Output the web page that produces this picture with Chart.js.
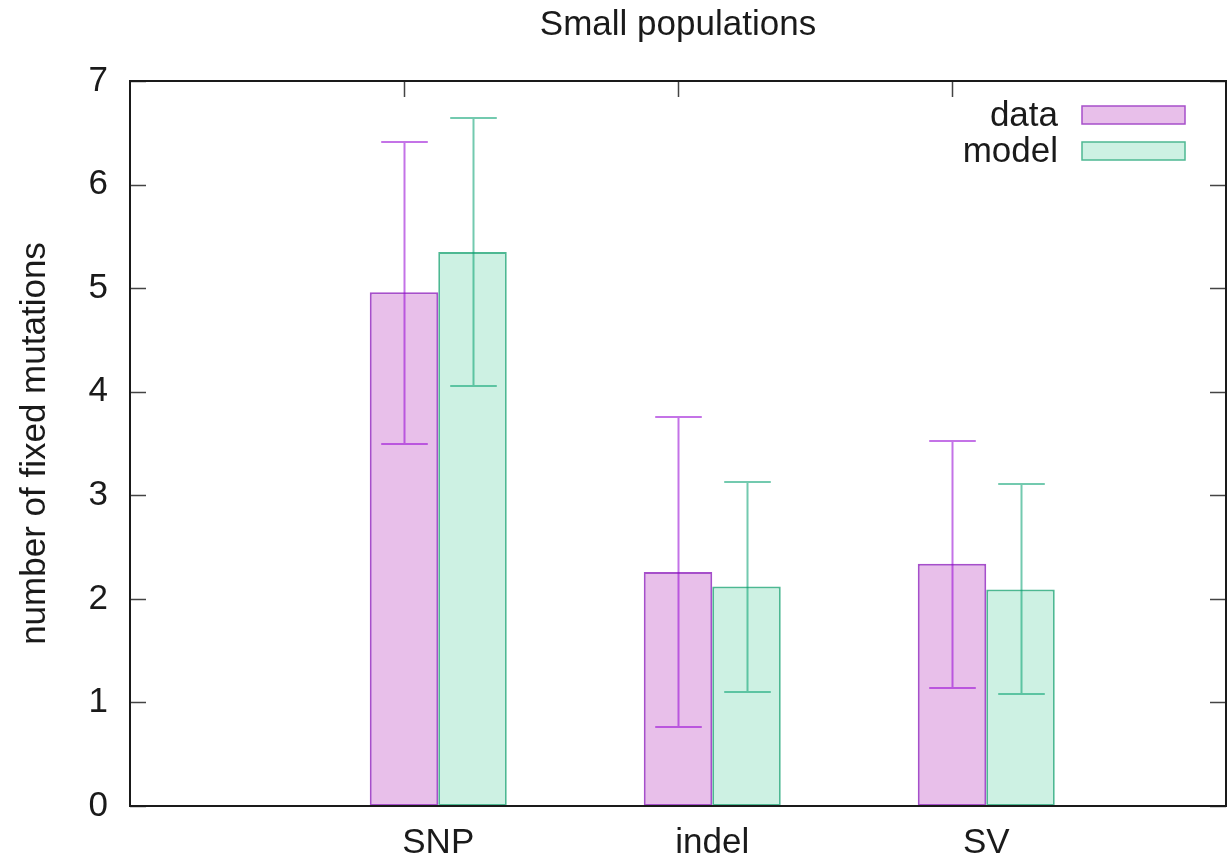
<!DOCTYPE html>
<html lang="en">
<head>
    <meta charset="UTF-8">
    <title>Small populations</title>
    <script src="https://cdn.jsdelivr.net/npm/chart.js@4/dist/chart.umd.min.js"></script>
    <style>
        body { margin: 0; background: #fff; }
    </style>
</head>
<body>
    <canvas id="myChart" width="1228" height="864"></canvas>

    <script>
        const categories = ['SNP', 'indel', 'SV'];
        const seriesNames = ['data', 'model'];
        const dataMean  = [4.96, 2.26, 2.34];
        const dataLow   = [3.50, 0.76, 1.14];
        const dataHigh  = [6.41, 3.76, 3.52];
        const modelMean = [5.35, 2.12, 2.09];
        const modelLow  = [4.06, 1.10, 1.08];
        const modelHigh = [6.64, 3.13, 3.11];
        const yTicks = [0, 1, 2, 3, 4, 5, 6, 7];

        const FONT = '"Liberation Sans", Arial, Helvetica, sans-serif';
        const INK = '#1a1a1a';

        // cluster center sits a quarter bar to the right of the category position
        const toPoints = (vals) => vals.map((v, i) => ({ x: i + 0.125, y: v }));

        const errors = [
            { low: dataLow, high: dataHigh, color: 'rgba(148, 0, 211, 0.55)' },
            { low: modelLow, high: modelHigh, color: 'rgba(0, 158, 110, 0.55)' }
        ];

        const gnuplotLook = {
            id: 'gnuplotLook',
            afterDatasetsDraw(chart) {
                const ctx = chart.ctx;
                const y = chart.scales.y;
                ctx.save();
                ctx.lineWidth = 2;
                errors.forEach((err, d) => {
                    const meta = chart.getDatasetMeta(d);
                    ctx.strokeStyle = err.color;
                    meta.data.forEach((bar, i) => {
                        const cx = Math.round(bar.x) + 0.5;
                        const half = bar.width * 0.34;
                        const yl = Math.round(y.getPixelForValue(err.low[i]));
                        const yh = Math.round(y.getPixelForValue(err.high[i]));
                        ctx.beginPath();
                        ctx.moveTo(cx, yl);
                        ctx.lineTo(cx, yh);
                        ctx.moveTo(cx - half, yl);
                        ctx.lineTo(cx + half, yl);
                        ctx.moveTo(cx - half, yh);
                        ctx.lineTo(cx + half, yh);
                        ctx.stroke();
                    });
                });
                ctx.restore();
            },
            afterDraw(chart) {
                const ctx = chart.ctx;
                const a = chart.chartArea;
                const x = chart.scales.x;
                const y = chart.scales.y;
                ctx.save();

                // inward tics, both sides, and mirrored x tics on top
                ctx.strokeStyle = '#444';
                ctx.lineWidth = 1.5;
                ctx.beginPath();
                yTicks.forEach(v => {
                    const py = Math.round(y.getPixelForValue(v)) + 0.5;
                    ctx.moveTo(a.left, py);
                    ctx.lineTo(a.left + 16, py);
                    ctx.moveTo(a.right, py);
                    ctx.lineTo(a.right - 16, py);
                });
                categories.forEach((c, i) => {
                    const px = Math.round(x.getPixelForValue(i)) + 0.5;
                    ctx.moveTo(px, a.top);
                    ctx.lineTo(px, a.top + 16);
                });
                ctx.stroke();

                // frame
                ctx.strokeStyle = INK;
                ctx.lineWidth = 2;
                ctx.strokeRect(a.left, a.top, a.right - a.left, a.bottom - a.top);

                // key, text on the left, sample on the right
                ctx.font = '35px ' + FONT;
                ctx.textAlign = 'right';
                ctx.textBaseline = 'alphabetic';
                chart.data.datasets.forEach((ds, d) => {
                    const top = a.top + 25 + d * 36;
                    ctx.fillStyle = INK;
                    ctx.fillText(ds.label, a.right - 168, top + 20);
                    ctx.fillStyle = ds.backgroundColor;
                    ctx.fillRect(a.right - 144, top, 103, 18);
                    ctx.strokeStyle = ds.borderColor;
                    ctx.lineWidth = 1.5;
                    ctx.strokeRect(a.right - 144, top, 103, 18);
                });
                ctx.restore();
            }
        };

        const chart = new Chart('myChart', {
            type: 'bar',
            data: {
                datasets: [{
                    label: seriesNames[0],
                    data: toPoints(dataMean),
                    backgroundColor: '#e8bfea',
                    borderColor: '#a64fca',
                    borderWidth: 2,
                    borderSkipped: false
                }, {
                    label: seriesNames[1],
                    data: toPoints(modelMean),
                    backgroundColor: '#cdf1e3',
                    borderColor: '#4db892',
                    borderWidth: 2,
                    borderSkipped: false
                }]
            },
            options: {
                responsive: false,
                animation: false,
                categoryPercentage: 0.5,
                barPercentage: 1.0,
                layout: { padding: { left: 0, right: 2, top: 0, bottom: 0 } },
                plugins: {
                    legend: { display: false },
                    tooltip: { enabled: false },
                    title: {
                        display: true,
                        text: 'Small populations',
                        fullSize: false,
                        color: INK,
                        font: { family: FONT, size: 35, weight: 'normal', lineHeight: 1.2 },
                        padding: { top: 4, bottom: 35 }
                    }
                },
                scales: {
                    x: {
                        type: 'linear',
                        min: -1,
                        max: 3,
                        offset: false,
                        grid: { display: false, drawTicks: false, offset: false },
                        border: { display: false },
                        afterBuildTicks: (scale) => {
                            scale.ticks = categories.map((c, i) => ({ value: i + 0.125 }));
                        },
                        afterFit: (scale) => { scale.height = 58; },
                        ticks: {
                            autoSkip: false,
                            maxRotation: 0,
                            padding: 16,
                            color: INK,
                            font: { family: FONT, size: 35 },
                            callback: (value, index) => categories[index]
                        }
                    },
                    y: {
                        min: 0,
                        max: 7,
                        grid: { display: false, drawTicks: false },
                        border: { display: false },
                        afterFit: (scale) => { scale.width = 130; },
                        ticks: {
                            stepSize: 1,
                            padding: 22,
                            color: INK,
                            font: { family: FONT, size: 35 }
                        },
                        title: {
                            display: true,
                            text: 'number of fixed mutations',
                            color: INK,
                            font: { family: FONT, size: 35, lineHeight: 1.2 },
                            padding: { top: 14, bottom: 0 }
                        }
                    }
                }
            },
            plugins: [gnuplotLook]
        });
    </script>
</body>
</html>
